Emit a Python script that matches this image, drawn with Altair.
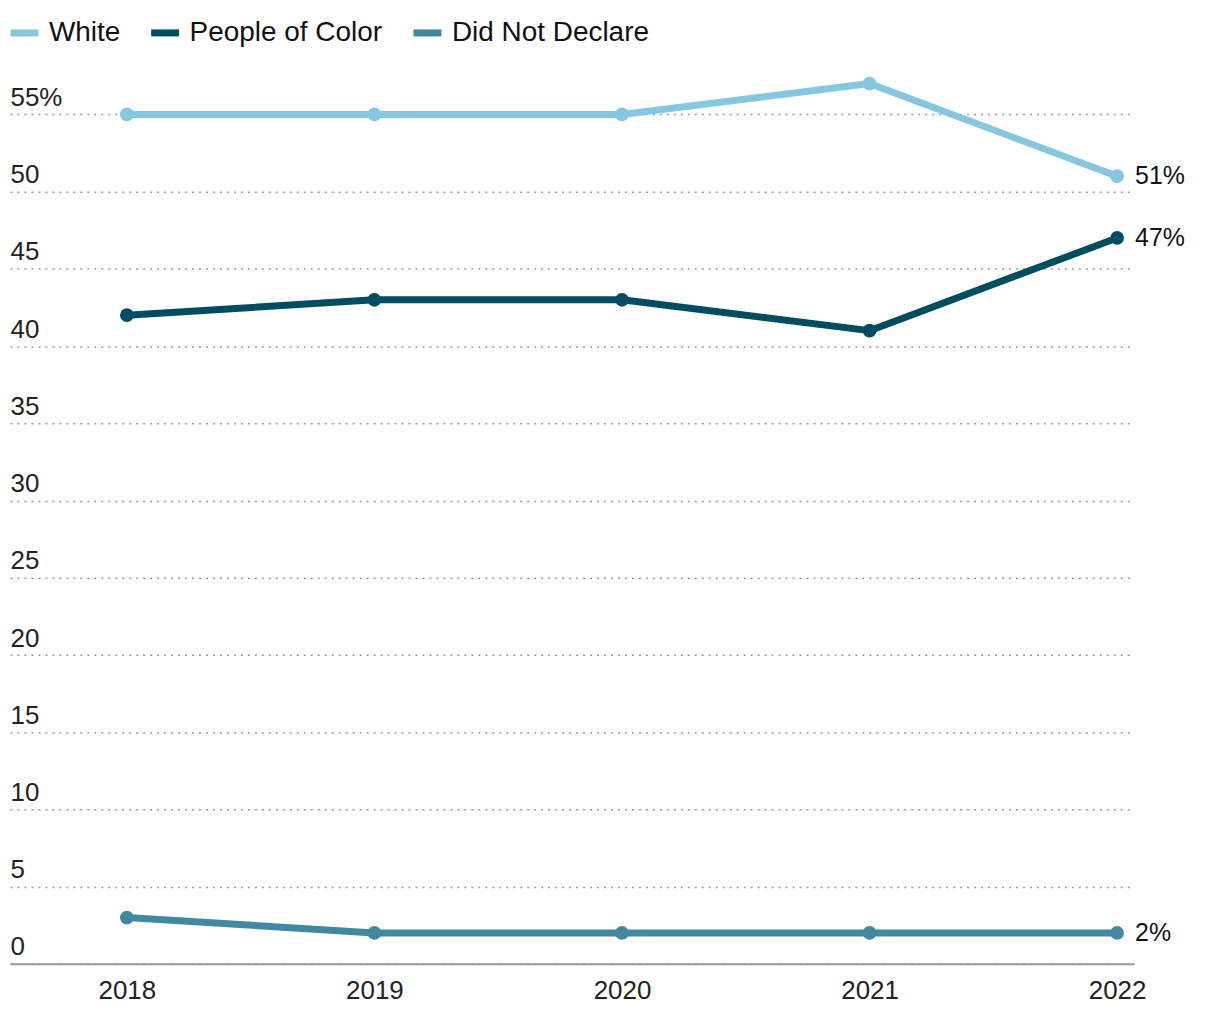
import altair as alt
import pandas as pd

years = [2018, 2019, 2020, 2021, 2022]
groups = ["White", "People of Color", "Did Not Declare"]
white = [55, 55, 55, 57, 51]
poc = [42, 43, 43, 41, 47]
dnd = [3, 2, 2, 2, 2]
colors = ["#85c7e0", "#004d62", "#4188a0"]
y_ticks = [0, 5, 10, 15, 20, 25, 30, 35, 40, 45, 50, 55]

rows = []
for g, vals in zip(groups, [white, poc, dnd]):
    for yr, v in zip(years, vals):
        rows.append({"year": yr, "group": g, "value": v})
df = pd.DataFrame(rows)
last = df[df["year"] == years[-1]].copy()
last["label"] = last["value"].astype(int).astype(str) + "%"

FONT = "Liberation Sans"

x = alt.X("year:Q",
          scale=alt.Scale(domain=[2017.528, 2022.069], nice=False, zero=False),
          axis=alt.Axis(values=years, format="d", title=None, grid=False, ticks=False,
                        domain=True, domainColor="#999999", domainWidth=2,
                        labelFontSize=26, labelColor="#222222", labelFont=FONT,
                        labelPadding=14, labelFlush=False, labelOverlap=False))
y = alt.Y("value:Q",
          scale=alt.Scale(domain=[0, 58], nice=False),
          axis=alt.Axis(values=y_ticks, title=None, domain=False, ticks=False, tickSize=0,
                        grid=True, gridColor="#999999", gridDash=[2, 5], gridWidth=1.5,
                        labelAlign="left", labelBaseline="alphabetic", labelOffset=-9,
                        labelPadding=0, labelFontSize=26, labelColor="#222222", labelFont=FONT,
                        labelOverlap=False, labelFlush=False,
                        labelExpr="datum.value == 55 ? datum.label + '%' : datum.label"))
color = alt.Color("group:N",
                  scale=alt.Scale(domain=groups, range=colors),
                  legend=alt.Legend(title=None, orient="none", legendX=-3, legendY=-53,
                                    direction="horizontal", symbolType="stroke",
                                    symbolStrokeWidth=7, symbolSize=784,
                                    labelFontSize=28, labelFont=FONT, labelColor="#111111",
                                    labelOffset=7, columnPadding=16, padding=0,
                                    labelLimit=500, symbolOpacity=1))

base = alt.Chart(df)
lines = base.mark_line(strokeWidth=7, strokeCap="round", strokeJoin="round").encode(
    x=x, y=y, color=color)
points = base.mark_circle(size=190, opacity=1).encode(
    x="year:Q", y="value:Q",
    color=alt.Color("group:N", scale=alt.Scale(domain=groups, range=colors), legend=None))
labels = alt.Chart(last).mark_text(align="left", baseline="middle", dx=18, fontSize=25,
                                   font=FONT, color="#111111").encode(
    x="year:Q", y="value:Q", text="label:N")

chart = (lines + points + labels).properties(
    width=1127, height=898,
    autosize=alt.AutoSizeParams(type="none"),
    padding={"left": 2, "top": 59, "right": 78, "bottom": 45},
).configure_view(stroke=None)

chart.save("out.html", embed_options={"renderer": "svg", "actions": False})
